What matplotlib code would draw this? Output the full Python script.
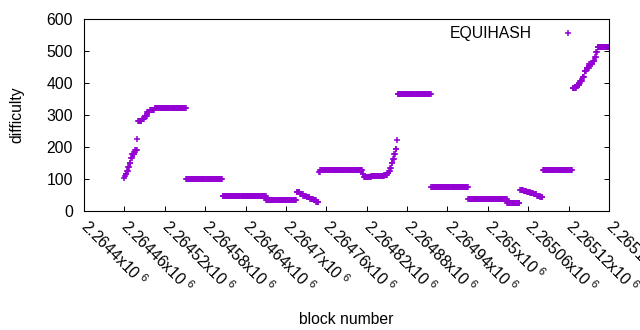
import numpy as np
import matplotlib
matplotlib.use("Agg")
import matplotlib.pyplot as plt

# 難易度の連続区間 (開始ブロック, 終了ブロック, 難易度)
run_first = [
    2264460, 2264461, 2264462, 2264464, 2264466, 2264468, 2264470, 2264472,
    2264476, 2264479, 2264480, 2264486, 2264490, 2264494, 2264498, 2264505,
    2264552, 2264606, 2264671, 2264716, 2264721, 2264726, 2264731, 2264736,
    2264741, 2264745, 2264749, 2264751, 2264814, 2264816, 2264827, 2264836,
    2264846, 2264851, 2264853, 2264855, 2264857, 2264859, 2264861, 2264863,
    2264865, 2264866, 2264916, 2264971, 2265029, 2265048, 2265053, 2265058,
    2265063, 2265068, 2265073, 2265078, 2265082, 2265126, 2265132, 2265137,
    2265141, 2265144, 2265147, 2265151, 2265156, 2265159, 2265161, 2265163,
]
run_last = [
    2264460, 2264461, 2264463, 2264465, 2264467, 2264469, 2264471, 2264475,
    2264478, 2264479, 2264485, 2264489, 2264493, 2264497, 2264504, 2264551,
    2264605, 2264670, 2264715, 2264720, 2264725, 2264730, 2264735, 2264740,
    2264744, 2264748, 2264750, 2264813, 2264815, 2264826, 2264835, 2264845,
    2264850, 2264852, 2264854, 2264856, 2264858, 2264860, 2264862, 2264864,
    2264865, 2264915, 2264970, 2265028, 2265047, 2265052, 2265057, 2265062,
    2265067, 2265072, 2265077, 2265081, 2265125, 2265131, 2265136, 2265140,
    2265143, 2265146, 2265150, 2265155, 2265158, 2265160, 2265162, 2265180,
]
run_difficulty = [
    102, 108, 115, 125, 138, 150, 165, 178,
    190, 224, 280, 288, 298, 308, 316, 321,
    101, 48, 33, 58, 53, 48, 43, 38,
    33, 27, 121, 127, 115, 107, 109, 110,
    112, 118, 125, 135, 150, 162, 178, 195,
    222, 365, 74, 36, 24, 67, 63, 60,
    56, 52, 48, 44, 127, 383, 395, 407,
    420, 437, 448, 458, 470, 482, 496, 511,
]

# 目盛り
xtick_blocks = [2264400 + 60 * i for i in range(14)]
xtick_mantissa = ["2.2644", "2.26446", "2.26452", "2.26458", "2.26464",
                  "2.2647", "2.26476", "2.26482", "2.26488", "2.26494",
                  "2.265", "2.26506", "2.26512", "2.26518"]
ytick_values = [0, 100, 200, 300, 400, 500, 600]

# 各ブロックの点に展開
blocks = []
difficulty = []
for first, last, d in zip(run_first, run_last, run_difficulty):
    for b in range(first, last + 1):
        blocks.append(b)
        difficulty.append(d)

plt.rcParams["font.family"] = ["Liberation Sans", "DejaVu Sans"]
plt.rcParams["mathtext.fontset"] = "custom"
plt.rcParams["mathtext.rm"] = "Liberation Sans"

fig = plt.figure(figsize=(6.4, 3.3), dpi=100)
ax = fig.add_axes([84 / 640, 1 - 211 / 330, 525 / 640, 192 / 330])

color = "#9400d3"
ax.plot(blocks, difficulty, linestyle="none", marker="+", markersize=4.6,
        markeredgewidth=1.1, color=color, label="EQUIHASH")

ax.set_xlim(xtick_blocks[0], xtick_blocks[-1])
ax.set_ylim(0, 600)
ax.set_xticks(xtick_blocks)
ax.set_xticklabels([m + r"x10$^{\ 6}$" for m in xtick_mantissa],
                   rotation=-45, ha="left", va="center", rotation_mode="anchor")
ax.set_yticks(ytick_values)

ax.tick_params(axis="both", direction="in", length=3.5, width=0.7,
               labelsize=11.3, pad=6)
ax.tick_params(axis="y", right=True, pad=8)
ax.tick_params(axis="x", pad=9)
for s in ax.spines.values():
    s.set_linewidth(0.8)

ax.set_xlabel("block number", fontsize=11.3, labelpad=11)
ax.set_ylabel("difficulty", fontsize=11.3, labelpad=16)

ax.legend(loc="upper right", markerfirst=False, frameon=False,
          fontsize=11.3, handlelength=1.2, handletextpad=1.7,
          borderaxespad=0.2, bbox_to_anchor=(0.957, 1.01))

fig.savefig("out.png", dpi=100)
